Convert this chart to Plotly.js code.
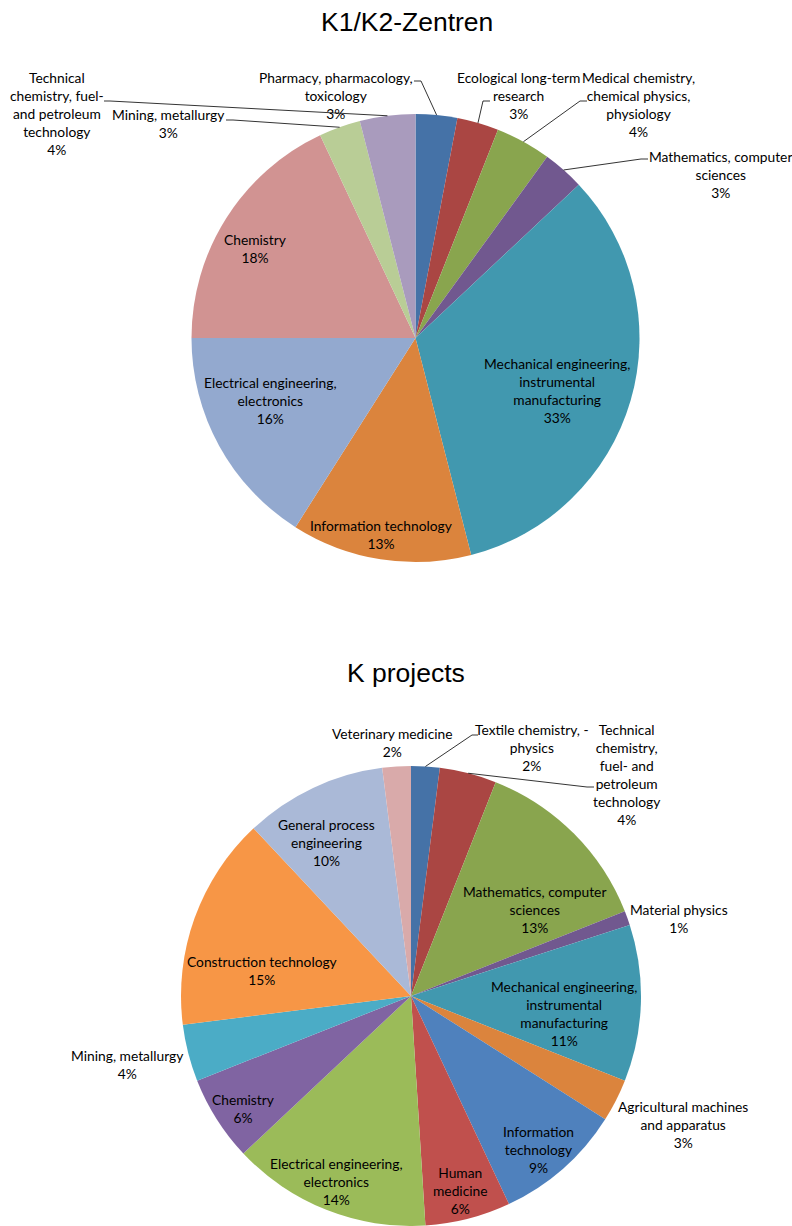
<!DOCTYPE html>
<html><head><meta charset="utf-8">
<script src="https://cdn.plot.ly/plotly-3.0.1.min.js"></script>
<style>html,body{margin:0;padding:0;background:#fff}</style>
</head><body><div id="chart" style="width:792px;height:1226px"></div>
<script>
const W = 792, H = 1226;

// ---- Data: K1/K2-Zentren ----
const topLabels = ["Pharmacy, pharmacology, toxicology", "Ecological long-term research", "Medical chemistry, chemical physics, physiology", "Mathematics, computer sciences", "Mechanical engineering, instrumental manufacturing", "Information technology", "Electrical engineering, electronics", "Chemistry", "Mining, metallurgy", "Technical chemistry, fuel- and petroleum technology"];
const topLines = ["Pharmacy, pharmacology,<br>toxicology", "Ecological long-term<br>research", "Medical chemistry,<br>chemical physics,<br>physiology", "Mathematics, computer<br>sciences", "Mechanical engineering,<br>instrumental<br>manufacturing", "Information technology", "Electrical engineering,<br>electronics", "Chemistry", "Mining, metallurgy", "Technical<br>chemistry, fuel-<br>and petroleum<br>technology"];
const topValues = [3, 3, 4, 3, 33, 13, 16, 18, 3, 4];
const topColors = ["#4572A7", "#AA4643", "#89A54E", "#71588F", "#4198AF", "#DB843D", "#93A9CF", "#D19392", "#B9CD96", "#A99BBD"];

// ---- Data: K projects ----
const botLabels = ["Textile chemistry, -physics", "Technical chemistry, fuel- and petroleum technology", "Mathematics, computer sciences", "Material physics", "Mechanical engineering, instrumental manufacturing", "Agricultural machines and apparatus", "Information technology", "Human medicine", "Electrical engineering, electronics", "Chemistry", "Mining, metallurgy", "Construction technology", "General process engineering", "Veterinary medicine"];
const botLines = ["Textile chemistry, -<br>physics", "Technical<br>chemistry,<br>fuel- and<br>petroleum<br>technology", "Mathematics, computer<br>sciences", "Material physics", "Mechanical engineering,<br>instrumental<br>manufacturing", "Agricultural machines<br>and apparatus", "Information<br>technology", "Human<br>medicine", "Electrical engineering,<br>electronics", "Chemistry", "Mining, metallurgy", "Construction technology", "General process<br>engineering", "Veterinary medicine"];
const botValues = [2, 4, 13, 1, 11, 3, 9, 6, 14, 6, 4, 15, 10, 2];
const botColors = ["#4572A7", "#AA4643", "#89A54E", "#71588F", "#4198AF", "#DB843D", "#4F81BD", "#C0504D", "#9BBB59", "#8064A2", "#4BACC6", "#F79646", "#AAB9D7", "#D9AAAA"];

// ---- Layout (pixel) ----
const topPie = {cx: 415.5, cy: 338, r: 224};
const botPie = {cx: 411, cy: 996, r: 230};
const topLabelPos = [[336,96],[518,96],[638,105],[720,174],[557,390],[381,534],[270,401],[255,248],[168,124],[57,113]];
const botLabelPos = [[532,747],[626,774],[534,910],[679,918],[564,1013],[683,1124],[538,1149],[460,1190],[336,1181],[243,1108],[127,1064],[262,970],[326,842],[392,742]];
const topLeaders = {0:[414,81,421,81], 1:[490,101,483,101], 2:[587,101,580,101], 3:[648,159,641,159], 8:[226,120,233,120], 9:[104,101,110,101]};
const botLeaders = {0:[478,735,472,735], 1:[594,787,587,787]};

const px = x => x / W, py = y => 1 - y / H;

function domainOf(p) {
  return {x: [px(p.cx - p.r), px(p.cx + p.r)], y: [py(p.cy + p.r), py(p.cy - p.r)]};
}

function pieTrace(labels, values, colors, p) {
  return {
    type: 'pie', labels: labels, values: values, sort: false, direction: 'clockwise', rotation: 0,
    marker: {colors: colors, line: {width: 0}}, textinfo: 'none', hoverinfo: 'label+percent',
    domain: domainOf(p), showlegend: false
  };
}

const annotations = [];
const shapes = [];
const labelFont = {family: 'Lato, "Open Sans", sans-serif', size: 13.8, color: '#000'};

function addLabels(lines, values, pos, leaders, p) {
  const total = values.reduce((a, b) => a + b, 0);
  let cum = 0;
  values.forEach((v, i) => {
    const pct = Math.round(v / total * 100) + '%';
    annotations.push({
      xref: 'paper', yref: 'paper', x: px(pos[i][0]), y: py(pos[i][1]),
      xanchor: 'center', yanchor: 'middle', align: 'center', showarrow: false,
      text: lines[i] + '<br>' + pct, font: labelFont
    });
    const mid = (cum + v / 2) / total * 2 * Math.PI;
    cum += v;
    if (leaders[i]) {
      const L = leaders[i];
      const ex = p.cx + p.r * Math.sin(mid), ey = p.cy - p.r * Math.cos(mid);
      shapes.push({
        type: 'path', xref: 'paper', yref: 'paper',
        path: `M ${px(L[0])},${py(L[1])} L ${px(L[2])},${py(L[3])} L ${px(ex)},${py(ey)}`,
        line: {color: '#000', width: 0.8}
      });
    }
  });
}

addLabels(topLines, topValues, topLabelPos, topLeaders, topPie);
addLabels(botLines, botValues, botLabelPos, botLeaders, botPie);

const titleFont = {family: '"Liberation Sans", Arial, sans-serif', size: 26.5, color: '#000'};
annotations.push({xref: 'paper', yref: 'paper', x: px(407), y: py(22), xanchor: 'center', yanchor: 'middle', showarrow: false, text: 'K1/K2-Zentren', font: titleFont});
annotations.push({xref: 'paper', yref: 'paper', x: px(406), y: py(673), xanchor: 'center', yanchor: 'middle', showarrow: false, text: 'K projects', font: titleFont});

const layout = {
  width: W, height: H, margin: {l: 0, r: 0, t: 0, b: 0},
  paper_bgcolor: '#fff', plot_bgcolor: '#fff',
  annotations: annotations, shapes: shapes
};

Plotly.newPlot('chart', [pieTrace(topLabels, topValues, topColors, topPie), pieTrace(botLabels, botValues, botColors, botPie)], layout, {displayModeBar: false, staticPlot: true});
</script></body></html>
